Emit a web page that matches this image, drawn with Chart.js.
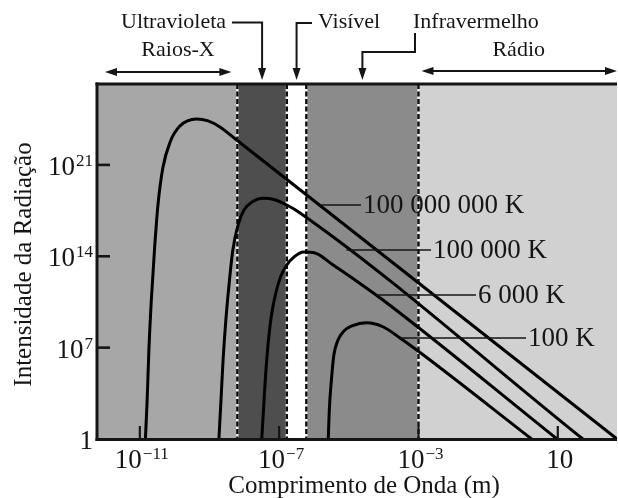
<!DOCTYPE html>
<html>
<head>
<meta charset="utf-8">
<script src="https://cdn.jsdelivr.net/npm/chart.js@4/dist/chart.umd.min.js"></script>
<style>
  html, body { margin: 0; padding: 0; background: #ffffff; }
  canvas { display: block; }
</style>
</head>
<body>
<canvas id="chart" width="618" height="498"></canvas>
<script>
// Blackbody curves: log10 of wavelength (m) against log10 of intensity.
const curveNames = ['100 000 000 K', '100 000 K', '6 000 K', '100 K'];

const logWl_1e8K = [-10.84, -10.79, -10.74, -10.67, -10.58, -10.48, -10.34, -10.13, -9.85, -9.37, -9.04, -8.70, -8.22, 2.70];
const logI_1e8K  = [0, 2.99, 6.82, 10.65, 14.48, 17.93, 20.76, 22.76, 23.98, 24.52, 24.37, 23.91, 22.91, 0];

const logWl_1e5K = [-8.73, -8.67, -8.61, -8.53, -8.44, -8.33, -8.18, -8.01, -7.78, -7.46, -7.15, -6.78, -6.40, 1.72];
const logI_1e5K  = [0, 2.99, 6.05, 9.12, 11.80, 14.48, 16.40, 17.55, 18.16, 18.44, 18.35, 17.93, 17.32, 0];

const logWl_6000K = [-7.50, -7.45, -7.39, -7.32, -7.22, -7.09, -6.95, -6.78, -6.57, -6.30, -5.97, -5.45, -4.82, -4.02, 0.98];
const logI_6000K  = [0, 2.22, 4.90, 7.20, 9.50, 11.26, 12.49, 13.33, 13.95, 14.33, 14.25, 13.33, 12.18, 10.65, 0];

const logWl_100K = [-5.59, -5.56, -5.50, -5.43, -5.31, -5.14, -4.91, -4.49, -4.02, -3.53, -3.05, 0.25];
const logI_100K  = [0, 2.22, 4.52, 6.44, 7.59, 8.28, 8.66, 8.91, 8.60, 7.74, 6.82, 0];

// log10 intensity at which each curve's name tag is attached
const tagLevels = [17.93, 14.48, 11.03, 7.74];

// Spectral band limits (log10 wavelength, m) and band names
const bandEdges = [-8.2, -6.78, -6.22, -3];
const bandNames = ['Raios-X', 'Ultravioleta', 'Visível', 'Infravermelho', 'Rádio'];

// Axis ranges and ticks (log10)
const xRange = [-12.23, 2.7];
const yRange = [0, 27.2];
const xTicks = [-11, -7, -3, 1];
const yTicks = [0, 7, 14, 21];

const axisTitleX = 'Comprimento de Onda (m)';
const axisTitleY = 'Intensidade da Radiação';

// ---- styling ----
const SERIF = "'Liberation Serif', 'Times New Roman', serif";
const INK = '#151515';
const bandFills = ['#a7a7a7', '#4e4e4e', '#ffffff', '#8b8b8b', '#d1d1d1'];

const toPoints = (xs, ys) => xs.map((v, i) => ({ x: Math.pow(10, v), y: Math.pow(10, ys[i]) }));
const curves = [
  toPoints(logWl_1e8K, logI_1e8K),
  toPoints(logWl_1e5K, logI_1e5K),
  toPoints(logWl_6000K, logI_6000K),
  toPoints(logWl_100K, logI_100K)
];

function tickParts(e) {
  if (e === 0) return ['1', ''];
  if (e === 1) return ['10', ''];
  return ['10', String(e).replace('-', '−')];
}

function drawPower(ctx, parts, x, y, align) {
  const [base, exp] = parts;
  ctx.font = '27px ' + SERIF;
  const wb = ctx.measureText(base).width;
  ctx.font = '17px ' + SERIF;
  const we = exp ? ctx.measureText(exp).width + 1 : 0;
  const total = wb + we;
  const left = align === 'center' ? x - total / 2 : align === 'right' ? x - total : x;
  ctx.textAlign = 'left';
  ctx.textBaseline = 'alphabetic';
  ctx.font = '27px ' + SERIF;
  ctx.fillText(base, left, y);
  if (exp) {
    ctx.font = '17px ' + SERIF;
    ctx.fillText(exp, left + wb + 1, y - 9);
  }
}

function arrowHead(ctx, x, y, dir) {
  const L = 12, W = 4;
  ctx.beginPath();
  if (dir === 'down') { ctx.moveTo(x, y); ctx.lineTo(x - W, y - L); ctx.lineTo(x + W, y - L); }
  if (dir === 'left') { ctx.moveTo(x, y); ctx.lineTo(x + L, y - W); ctx.lineTo(x + L, y + W); }
  if (dir === 'right') { ctx.moveTo(x, y); ctx.lineTo(x - L, y - W); ctx.lineTo(x - L, y + W); }
  ctx.closePath();
  ctx.fill();
}

function polyline(ctx, pts) {
  ctx.beginPath();
  ctx.moveTo(pts[0][0], pts[0][1]);
  for (let i = 1; i < pts.length; i++) ctx.lineTo(pts[i][0], pts[i][1]);
  ctx.stroke();
}

function doubleArrow(ctx, x1, x2, y) {
  polyline(ctx, [[x1 + 6, y], [x2 - 6, y]]);
  arrowHead(ctx, x1, y, 'left');
  arrowHead(ctx, x2, y, 'right');
}

// x pixel where a curve's falling side reaches a given pixel height
function crossingX(meta, py) {
  const pts = meta.data;
  let peak = 0;
  for (let i = 1; i < pts.length; i++) if (pts[i].y < pts[peak].y) peak = i;
  for (let i = peak; i < pts.length - 1; i++) {
    const a = pts[i], b = pts[i + 1];
    if ((a.y - py) * (b.y - py) <= 0) {
      const t = (py - a.y) / (b.y - a.y || 1);
      return a.x + t * (b.x - a.x);
    }
  }
  return pts[pts.length - 1].x;
}

const spectrumDecor = {
  id: 'spectrumDecor',
  beforeDatasetsDraw(chart) {
    const { ctx, chartArea: a, scales: { x } } = chart;
    const edges = [a.left, ...bandEdges.map(e => x.getPixelForValue(Math.pow(10, e))), a.right];
    ctx.save();
    for (let i = 0; i < bandFills.length; i++) {
      ctx.fillStyle = bandFills[i];
      ctx.fillRect(edges[i], a.top, edges[i + 1] - edges[i], a.bottom - a.top);
    }
    for (const e of bandEdges) {
      const px = x.getPixelForValue(Math.pow(10, e));
      ctx.lineWidth = 2.4;
      ctx.setLineDash([]);
      ctx.strokeStyle = '#f2f2f2';
      polyline(ctx, [[px, a.top], [px, a.bottom]]);
      ctx.setLineDash([5, 2.5]);
      ctx.strokeStyle = '#0c0c0c';
      polyline(ctx, [[px, a.top], [px, a.bottom]]);
    }
    ctx.restore();
  },
  afterDatasetsDraw(chart) {
    const { ctx, chartArea: a, scales: { x, y } } = chart;
    const xp = e => x.getPixelForValue(Math.pow(10, e));
    const yp = e => y.getPixelForValue(Math.pow(10, e));
    ctx.save();
    ctx.strokeStyle = INK;
    ctx.fillStyle = INK;
    ctx.setLineDash([]);
    ctx.lineCap = 'butt';

    // frame: left, bottom and top edges
    ctx.lineWidth = 3;
    polyline(ctx, [[a.left, a.top - 1.5], [a.left, a.bottom + 2]]);
    polyline(ctx, [[a.left - 1.5, a.bottom + 0.5], [a.right, a.bottom + 0.5]]);
    polyline(ctx, [[a.left - 1.5, a.top], [a.right, a.top]]);

    // inward tick marks
    ctx.lineWidth = 2.2;
    for (const e of xTicks) {
      const px = xp(e);
      polyline(ctx, [[px, a.bottom], [px, a.bottom - 13]]);
    }
    ctx.lineWidth = 2.6;
    for (const e of yTicks) {
      if (e === yRange[0]) continue;
      const py = yp(e);
      polyline(ctx, [[a.left, py], [a.left + 13, py]]);
    }

    // tick labels
    for (const e of xTicks) drawPower(ctx, tickParts(e), xp(e) + 2, a.bottom + 29, 'center');
    for (const e of yTicks) drawPower(ctx, tickParts(e), a.left - 4, yp(e) + 10, 'right');

    // axis titles
    ctx.textAlign = 'center';
    ctx.textBaseline = 'alphabetic';
    ctx.font = '25px ' + SERIF;
    ctx.fillText(axisTitleX, 364, 493);
    ctx.save();
    ctx.translate(31, (a.top + a.bottom) / 2 + 3);
    ctx.rotate(-Math.PI / 2);
    ctx.fillText(axisTitleY, 0, 0);
    ctx.restore();

    // temperature tags with leader lines
    const tagTextX = [363, 433, 478, 528];
    ctx.font = '27px ' + SERIF;
    ctx.textAlign = 'left';
    ctx.lineWidth = 1.6;
    curveNames.forEach((name, i) => {
      const py = yp(tagLevels[i]);
      const cx = crossingX(chart.getDatasetMeta(i), py);
      polyline(ctx, [[cx, py], [tagTextX[i] - 2, py]]);
      ctx.fillText(name, tagTextX[i], py + 8);
    });

    // spectral band annotations above the frame
    const uvX = (xp(bandEdges[0]) + xp(bandEdges[1])) / 2;
    const visX = (xp(bandEdges[1]) + xp(bandEdges[2])) / 2;
    const irX = (xp(bandEdges[2]) + xp(bandEdges[3])) / 2;
    const tipY = a.top - 4;

    ctx.font = '22px ' + SERIF;
    ctx.textAlign = 'left';
    ctx.fillText(bandNames[1], 121, 28);
    ctx.textAlign = 'center';
    ctx.fillText(bandNames[0], 178, 56);
    ctx.textAlign = 'left';
    ctx.fillText(bandNames[2], 318, 28);
    ctx.fillText(bandNames[3], 413, 28);
    ctx.textAlign = 'right';
    ctx.fillText(bandNames[4], 545, 56);

    ctx.lineWidth = 2;
    polyline(ctx, [[232, 22.5], [uvX, 22.5], [uvX, tipY - 8]]);
    arrowHead(ctx, uvX, tipY, 'down');
    polyline(ctx, [[312, 23], [visX, 23], [visX, tipY - 8]]);
    arrowHead(ctx, visX, tipY, 'down');
    polyline(ctx, [[415, 33], [415, 52], [irX, 52], [irX, tipY - 8]]);
    arrowHead(ctx, irX, tipY, 'down');

    doubleArrow(ctx, a.left + 8, xp(bandEdges[0]) - 6, 72);
    doubleArrow(ctx, xp(bandEdges[3]) + 3, a.right, 71);

    ctx.restore();
  }
};

new Chart(document.getElementById('chart'), {
  type: 'line',
  data: {
    datasets: curves.map((pts, i) => ({
      label: curveNames[i],
      data: pts,
      borderColor: '#000000',
      borderWidth: 3,
      borderJoinStyle: 'round',
      pointRadius: 0,
      fill: false,
      cubicInterpolationMode: 'monotone'
    }))
  },
  options: {
    responsive: false,
    animation: false,
    devicePixelRatio: 1,
    layout: { padding: { left: 97, right: 1, top: 84, bottom: 59 } },
    plugins: { legend: { display: false }, tooltip: { enabled: false } },
    scales: {
      x: { type: 'logarithmic', min: Math.pow(10, xRange[0]), max: Math.pow(10, xRange[1]), display: false },
      y: { type: 'logarithmic', min: Math.pow(10, yRange[0]), max: Math.pow(10, yRange[1]), display: false }
    }
  },
  plugins: [spectrumDecor]
});
</script>
</body>
</html>
